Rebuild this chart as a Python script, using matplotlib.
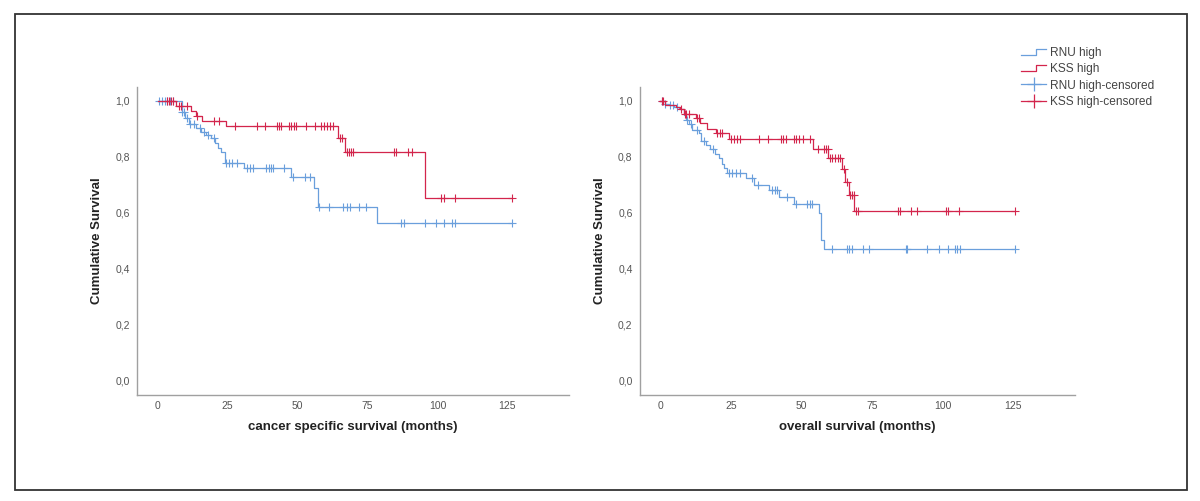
import numpy as np
import matplotlib
matplotlib.use("Agg")
import matplotlib.pyplot as plt
from matplotlib.lines import Line2D
from matplotlib.legend_handler import HandlerBase
from matplotlib.patches import Rectangle
from matplotlib.ticker import FuncFormatter

plt.rcParams['font.family'] = ['Liberation Sans', 'DejaVu Sans']

# ---------------- data ----------------
# Cancer specific survival (left panel)
css_rnu_times = [0, 8.7, 9.8, 11.2, 13.8, 15.6, 17.4, 19.2, 20.4, 21.5, 22.7, 23.9, 31.0, 47.5, 56.0, 57.3, 78.4]
css_rnu_surv = [1.0, 0.96, 0.938, 0.917, 0.902, 0.89, 0.879, 0.869, 0.851, 0.833, 0.817, 0.778, 0.76, 0.73, 0.69, 0.62, 0.565]
css_rnu_end = 126.5
css_rnu_cens = [0.5, 1.5, 2.5, 3.5, 4.5, 5.5, 8.8, 9.3, 10.5, 11.5, 13, 15, 16.5, 18, 20, 24.5, 25.5, 26.5, 28.5,
                32, 33, 34, 38.8, 39.7, 40.5, 41.3, 45, 48.3, 52.5, 54.3, 57.5, 61.4, 66.2, 67.5, 68.6, 72, 74.5,
                87, 88, 95.4, 99.4, 102.5, 105.2, 106.4, 126.5]

css_kss_times = [0, 6.7, 12.0, 13.8, 16.0, 24.5, 64.4, 66.9, 95.4]
css_kss_surv = [1.0, 0.982, 0.964, 0.946, 0.928, 0.91, 0.868, 0.818, 0.655]
css_kss_end = 126.5
css_kss_cens = [3.2, 4.0, 4.7, 5.5, 7.5, 8.2, 10.3, 14.2, 20, 22, 27.5, 35.6, 38.2, 42.5, 43.3, 44.1, 47, 47.8,
                48.6, 49.4, 53, 56.3, 58.5, 59.5, 60.5, 61.5, 62.5, 65.2, 65.9, 67.6, 68.3, 69, 69.8, 84.6, 85.3,
                89.3, 91, 101.3, 102.3, 106.4, 126.5]

# Overall survival (right panel)
os_rnu_times = [0, 1.5, 3.0, 5.0, 6.5, 8.3, 9.2, 10.2, 11.3, 13.6, 14.4, 16.3, 17.7, 19.5, 20.7, 21.9, 22.7, 23.7,
                30.5, 33.3, 38.5, 42.0, 47.3, 56.2, 57.0, 58.0]
os_rnu_surv = [1.0, 0.99, 0.985, 0.978, 0.97, 0.95, 0.932, 0.918, 0.898, 0.885, 0.857, 0.843, 0.828, 0.81, 0.795,
               0.775, 0.76, 0.742, 0.724, 0.70, 0.682, 0.656, 0.632, 0.60, 0.505, 0.473]
os_rnu_end = 125.7
os_rnu_cens = [0.6, 1.8, 3.5, 4.5, 6, 9.5, 10.8, 13, 15.5, 18.5, 24.2, 25.5, 26.8, 28.4, 32.5, 34.5, 39.5, 40.5,
               41.4, 44.8, 48.2, 52.1, 53.2, 53.9, 61, 66, 67, 68, 72, 74, 87, 87.6, 94.7, 98.8, 101.8, 104.4,
               105.3, 106.3, 125.7]

os_kss_times = [0, 1.8, 5.5, 7.1, 8.3, 12.5, 14.2, 16.6, 19.6, 24.3, 54.2, 59.6, 64.3, 65.6, 66.8, 68.8]
os_kss_surv = [1.0, 0.986, 0.98, 0.97, 0.955, 0.94, 0.92, 0.9, 0.885, 0.864, 0.83, 0.797, 0.757, 0.712, 0.665, 0.608]
os_kss_end = 125.7
os_kss_cens = [0.5, 1.0, 7.2, 8.6, 9.2, 10.3, 13, 13.8, 20, 21, 22, 25, 26, 27.3, 28.4, 35, 38, 42.7, 43.5, 44.5,
               47.4, 48.2, 49, 50.4, 53.1, 56, 57.9, 58.6, 59.3, 60.2, 61, 62, 63, 63.8, 65, 66.2, 67.3, 68,
               68.6, 69.4, 70.2, 84.2, 85, 89, 91, 101.2, 102, 105.8, 125.7]

x_ticks = [0, 25, 50, 75, 100, 125]
y_ticks = [0.0, 0.2, 0.4, 0.6, 0.8, 1.0]
x_labels = ["cancer specific survival (months)", "overall survival (months)"]
y_label = "Cumulative Survival"
legend_labels = ["RNU high", "KSS high", "RNU high-censored", "KSS high-censored"]

BLUE = "#6a9fdc"
RED = "#d3254c"

# ---------------- figure ----------------
fig = plt.figure(figsize=(12, 5.01), dpi=100)
fig.patches.append(Rectangle((15 / 1200, 1 - 490 / 501), (1187 - 15) / 1200, (490 - 14) / 501,
                             transform=fig.transFigure, fill=False, edgecolor="#333333", lw=1.3))

ax_l = fig.add_axes([137 / 1200, 1 - 395 / 501, 432 / 1200, (395 - 86.7) / 501])
ax_r = fig.add_axes([639.5 / 1200, 1 - 395 / 501, 435.5 / 1200, (395 - 86.7) / 501])


def draw_km(ax, times, surv, end, cens, color):
    t = np.array(list(times) + [end])
    s = np.array(list(surv) + [surv[-1]])
    ax.step(t, s, where="post", color=color, lw=0.9)
    c = np.array(cens)
    idx = np.searchsorted(np.array(times), c, side="right") - 1
    cy = np.array(surv)[idx]
    ax.plot(c, cy, linestyle="none", marker="+", color=color, markersize=6, mew=0.8)


draw_km(ax_l, css_rnu_times, css_rnu_surv, css_rnu_end, css_rnu_cens, BLUE)
draw_km(ax_l, css_kss_times, css_kss_surv, css_kss_end, css_kss_cens, RED)
draw_km(ax_r, os_rnu_times, os_rnu_surv, os_rnu_end, os_rnu_cens, BLUE)
draw_km(ax_r, os_kss_times, os_kss_surv, os_kss_end, os_kss_cens, RED)

fmt = FuncFormatter(lambda v, p: f"{v:.1f}".replace(".", ","))
for ax, xl in zip([ax_l, ax_r], x_labels):
    ax.set_xlim(-7.4, 147)
    ax.set_ylim(-0.05, 1.051)
    ax.set_xticks(x_ticks)
    ax.set_yticks(y_ticks)
    ax.yaxis.set_major_formatter(fmt)
    ax.tick_params(length=0, labelsize=7.5, labelcolor="#555555", pad=5)
    ax.tick_params(axis="x", pad=4.5)
    for sp in ["top", "right"]:
        ax.spines[sp].set_visible(False)
    for sp in ["left", "bottom"]:
        ax.spines[sp].set_color("#a0a0a0")
        ax.spines[sp].set_linewidth(1.0)
    ax.set_xlabel(xl, fontsize=9.5, fontweight="bold", color="#222222", labelpad=7)
    ax.set_ylabel(y_label, fontsize=9.5, fontweight="bold", color="#222222", labelpad=9)
    ax.set_facecolor("white")


class StepHandler(HandlerBase):
    def create_artists(self, legend, orig_handle, xdescent, ydescent, width, height, fontsize, trans):
        x0 = -xdescent
        y0 = -ydescent
        xm = x0 + 0.6 * width
        xs = [x0, xm, xm, x0 + width]
        ys = [y0 + 0.15 * height, y0 + 0.15 * height, y0 + 0.85 * height, y0 + 0.85 * height]
        ln = Line2D(xs, ys, color=orig_handle.get_color(), lw=0.9)
        ln.set_transform(trans)
        return [ln]


h_rnu = Line2D([], [], color=BLUE)
h_kss = Line2D([], [], color=RED)
h_rnu_c = Line2D([], [], color=BLUE, marker="+", markersize=10, mew=0.9, lw=0.9)
h_kss_c = Line2D([], [], color=RED, marker="+", markersize=10, mew=0.9, lw=0.9)

fig.legend([h_rnu, h_kss, h_rnu_c, h_kss_c], legend_labels,
           handler_map={h_rnu: StepHandler(), h_kss: StepHandler()},
           loc="upper left", bbox_to_anchor=(1021 / 1200, 1 - 47 / 501),
           frameon=False, fontsize=8.6, handlelength=2.1, handletextpad=0.35,
           labelspacing=0.36, borderpad=0, borderaxespad=0, labelcolor="#444444")

fig.savefig("out.png", dpi=100, facecolor="white")
